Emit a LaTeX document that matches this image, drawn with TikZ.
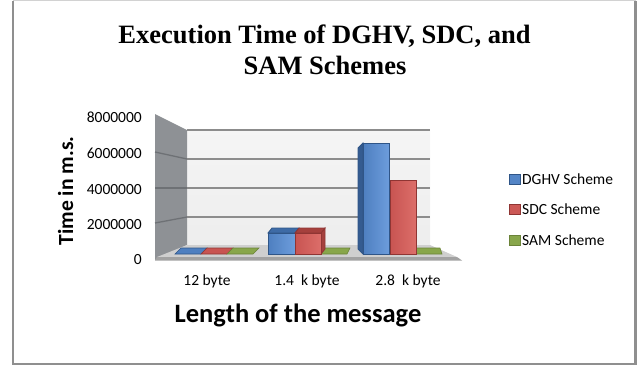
\documentclass[tikz,border=0pt]{standalone}
\usepackage{fontspec}
\setmainfont{Carlito}
\newfontfamily\titlefont{Liberation Serif}
\definecolor{framegray}{HTML}{8F8F8F}
\definecolor{wallside}{HTML}{8E9195}
\definecolor{wallline}{HTML}{6E7175}
\definecolor{gridgray}{HTML}{8C8C8C}
\definecolor{floortop}{HTML}{CFCFCF}
\definecolor{floorfront}{HTML}{A2A2A2}
\definecolor{blueL}{HTML}{4E7FC0}
\definecolor{blueR}{HTML}{6D9DDC}
\definecolor{blueDk}{HTML}{2F5587}
\definecolor{blueTop}{HTML}{3E6BA6}
\definecolor{redL}{HTML}{C85451}
\definecolor{redR}{HTML}{DC6E6A}
\definecolor{redDk}{HTML}{8F3533}
\definecolor{redTop}{HTML}{A5403D}
\definecolor{greenF}{HTML}{88A64B}
\definecolor{greenDk}{HTML}{6B8339}
\begin{document}
\begin{tikzpicture}[x=1pt,y=-1pt,
  ticklbl/.style={anchor=base east,inner sep=0,font=\fontsize{15.5}{17}\selectfont},
  catlbl/.style={anchor=base,inner sep=0,font=\fontsize{15.5}{17}\selectfont},
  leglbl/.style={anchor=base west,inner sep=0,font=\fontsize{15.5}{17}\selectfont},
  titlelbl/.style={anchor=base,inner sep=0,font=\titlefont\bfseries\fontsize{26.5}{30}\selectfont},
  axislbl/.style={inner sep=0,font=\bfseries\fontsize{26.5}{30}\selectfont},
  gridln/.style={draw=gridgray,line width=1.3},
  wallgrid/.style={draw=wallline,line width=1.3},
  bluefront/.style={draw=blueDk,line width=0.8,left color=blueL,right color=blueR},
  redfront/.style={draw=redDk,line width=0.8,left color=redL,right color=redR},
  bluetop/.style={draw=blueDk,line width=0.8,fill=blueTop},
  redtop/.style={draw=redDk,line width=0.8,fill=redTop},
  blueslab/.style={draw=blueDk,line width=0.6,fill=blueL},
  redslab/.style={draw=redDk,line width=0.6,fill=redL},
  greenslab/.style={draw=greenDk,line width=0.6,fill=greenF},
  legbox/.style={line width=0.8}]
\useasboundingbox (0,0) rectangle (639,367);
% frame
\draw[gray!35,line width=1] (13,0.5) -- (636,0.5);
\draw[framegray,line width=2] (13,0.5) -- (13,364) -- (636,364);
\draw[framegray,line width=3] (635.5,0.5) -- (635.5,365);
% title
\node[titlelbl] (title1) at (324.5,43) {Execution Time of DGHV, SDC, and};
\node[titlelbl] (title2) at (325,74) {SAM Schemes};
% back wall and side wall
\shade[top color=white!92!gray,bottom color=white!86!gray] (187,130) rectangle (430,245);
\fill[wallside] (155,114) -- (187,130) -- (187,245) -- (155,260) -- cycle;
% gridlines
\draw[wallgrid] (155,152) -- (187,159);
\draw[wallgrid] (155,188) -- (187,188);
\draw[wallgrid] (155,223) -- (187,217);
\draw[gridln] (187,130) -- (430,130);
\draw[gridln] (187,159) -- (430,159);
\draw[gridln] (187,188) -- (430,188);
\draw[gridln] (187,217) -- (430,217);
% floor
\fill[floortop] (187,245) -- (430,245) -- (457,257) -- (157,257) -- cycle;
\fill[floorfront] (157,257) -- (457,257) -- (462,260.5) -- (155,260.5) -- cycle;
% 12 byte slabs
\filldraw[blueslab] (175,254) -- (201,254) -- (207,248) -- (181,248) -- cycle;
\filldraw[redslab] (201,254) -- (227,254) -- (233,248) -- (207,248) -- cycle;
\filldraw[greenslab] (227,254) -- (253,254) -- (259,248) -- (233,248) -- cycle;
% 1.4 k byte
\filldraw[greenslab] (321,254) -- (347,254) -- (350,248) -- (324,248) -- cycle;
\filldraw[bluetop] (268,233) -- (295,233) -- (299,228) -- (272,228) -- cycle;
\shade[bluefront] (268,233) rectangle (295,254);
\filldraw[redtop] (321,233) -- (325,228) -- (325,249) -- (321,254) -- cycle;
\filldraw[redtop] (295,233) -- (321,233) -- (325,228) -- (299,228) -- cycle;
\shade[redfront] (295,233) rectangle (321,254);
% 2.8 k byte
\filldraw[greenslab] (416,254) -- (442,254) -- (440,248) -- (414,248) -- cycle;
\filldraw[draw=blueDk,line width=0.8,fill=blueDk!85!blueL] (358,148) -- (363,143) -- (363,254) -- (358,249) -- cycle;
\shade[bluefront] (363,143) rectangle (389.5,254);
\shade[redfront] (390,180) rectangle (416,254);
% axis tick labels
\node[ticklbl] (t8) at (142,122) {8000000};
\node[ticklbl] (t6) at (142,158) {6000000};
\node[ticklbl] (t4) at (142,194) {4000000};
\node[ticklbl] (t2) at (142,229) {2000000};
\node[ticklbl] (t0) at (142,264.5) {0};
% category labels
\node[catlbl] (c1) at (207,285) {12 byte};
\node[catlbl] (c2) at (307,285) {1.4\ \ k byte};
\node[catlbl] (c3) at (408,285) {2.8\ \ k byte};
% axis titles
\node[axislbl,rotate=90,anchor=base,font=\bfseries\fontsize{21.6}{24}\selectfont] (ytitle) at (73,191) {Time in m.s.};
\node[axislbl,anchor=base] (xtitle) at (298,322) {Length of the message};
% legend
\filldraw[legbox,draw=blueDk,fill=blueL!80!blueR] (509,174) rectangle (520,184);
\filldraw[legbox,draw=redDk,fill=redL!80!redR] (509,204) rectangle (520,214);
\filldraw[legbox,draw=greenDk,fill=greenF] (509,235) rectangle (520,245);
\node[leglbl] (l1) at (522,184.5) {DGHV Scheme};
\node[leglbl] (l2) at (522,214.5) {SDC Scheme};
\node[leglbl] (l3) at (522,245.5) {SAM Scheme};
\end{tikzpicture}
\end{document}
